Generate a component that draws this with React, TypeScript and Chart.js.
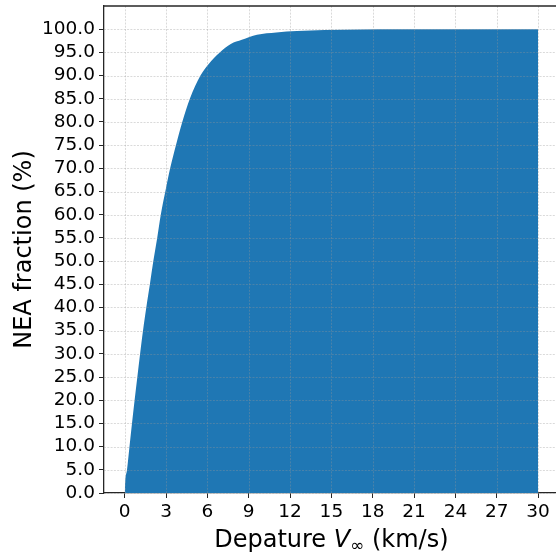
import React, { useEffect, useRef } from 'react';
import { Chart, registerables } from 'chart.js';

Chart.register(...registerables);

// Departure V-infinity (km/s) and cumulative NEA fraction (%)
const speeds = [0, 0.04, 0.17, 0.35, 0.53, 0.72, 0.92, 1.12, 1.33, 1.57, 1.83, 2.08, 2.36, 2.62, 2.95, 3.3, 3.72, 4.18, 4.73, 5.5, 6.1, 6.9, 7.7, 8.5, 9.6, 11.0, 12.5, 14.5, 17, 20, 30];
const fractions = [0, 2.5, 5, 10, 15, 20, 25, 30, 35, 40, 45, 50, 55, 60, 65, 70, 75, 80, 85, 90, 92.5, 95, 96.8, 97.7, 98.8, 99.3, 99.6, 99.85, 99.95, 100, 100];
const xTicks = [0, 3, 6, 9, 12, 15, 18, 21, 24, 27, 30];
const yTicks = [0, 5, 10, 15, 20, 25, 30, 35, 40, 45, 50, 55, 60, 65, 70, 75, 80, 85, 90, 95, 100];

const FONT = "'DejaVu Sans', sans-serif";
const SPINE = '#262626';

const overlay = {
  id: 'overlay',
  afterDatasetsDraw(chart: any) {
    const { ctx, chartArea, scales } = chart;
    const { left, right, top, bottom } = chartArea;
    ctx.save();
    ctx.strokeStyle = 'rgba(150,150,150,0.4)';
    ctx.lineWidth = 0.9;
    ctx.setLineDash([2, 1.3]);
    xTicks.forEach((v) => {
      const px = Math.round(scales.x.getPixelForValue(v)) + 0.5;
      ctx.beginPath();
      ctx.moveTo(px, top);
      ctx.lineTo(px, bottom);
      ctx.stroke();
    });
    yTicks.forEach((v) => {
      const py = Math.round(scales.y.getPixelForValue(v)) + 0.5;
      ctx.beginPath();
      ctx.moveTo(left, py);
      ctx.lineTo(right, py);
      ctx.stroke();
    });
    ctx.restore();
  },
  afterDraw(chart: any) {
    const { ctx, chartArea, scales } = chart;
    const { left, right, top } = chartArea;
    ctx.save();
    ctx.strokeStyle = SPINE;
    ctx.lineWidth = 1.3;
    ctx.beginPath();
    ctx.moveTo(left, top);
    ctx.lineTo(right, top);
    ctx.stroke();
    const parts = [
      { t: 'Depature ', f: `24px ${FONT}`, dy: 0 },
      { t: 'V', f: `italic 24px ${FONT}`, dy: 0 },
      { t: '\u221E', f: `17px ${FONT}`, dy: 4 },
      { t: ' (km/s)', f: `24px ${FONT}`, dy: 0 },
    ];
    let total = 0;
    const widths = parts.map((p) => {
      ctx.font = p.f;
      const w = ctx.measureText(p.t).width;
      total += w;
      return w;
    });
    const cx = scales.x.getPixelForValue(15);
    let x = cx - total / 2;
    const baseY = scales.x.bottom - 8;
    ctx.fillStyle = '#000';
    ctx.textBaseline = 'alphabetic';
    ctx.textAlign = 'left';
    parts.forEach((p, i) => {
      ctx.font = p.f;
      ctx.fillText(p.t, x, baseY + p.dy);
      x += widths[i];
    });
    ctx.restore();
  },
};

export default function App() {
  const ref = useRef<HTMLCanvasElement>(null);
  useEffect(() => {
    if (!ref.current) return;
    const chart = new Chart(ref.current, {
      type: 'line',
      data: {
        datasets: [
          {
            data: speeds.map((s, i) => ({ x: s, y: fractions[i] })),
            backgroundColor: '#1f77b4',
            borderColor: '#1f77b4',
            borderWidth: 0,
            pointRadius: 0,
            fill: 'origin',
            cubicInterpolationMode: 'monotone',
          },
        ],
      },
      options: {
        animation: false,
        responsive: false,
        maintainAspectRatio: false,
        devicePixelRatio: 1,
        layout: { padding: { top: 6, right: 0, left: 0, bottom: 0 } },
        plugins: { legend: { display: false }, tooltip: { enabled: false } },
        scales: {
          x: {
            type: 'linear',
            min: -1.5,
            max: 31.3,
            afterBuildTicks: (s: any) => {
              s.ticks = xTicks.map((v) => ({ value: v }));
            },
            afterFit: (s: any) => {
              s.height = 62;
              s.paddingLeft = 0;
              s.paddingRight = 0;
            },
            ticks: {
              autoSkip: false,
              maxRotation: 0,
              color: '#000',
              padding: 3,
              font: { family: FONT, size: 18.5 },
              callback: (v: any) => String(v),
            },
            grid: { drawOnChartArea: false, drawTicks: true, tickLength: 5, color: SPINE, lineWidth: 1 },
            border: { display: true, color: SPINE, width: 1.3 },
          },
          y: {
            type: 'linear',
            min: 0,
            max: 105,
            afterBuildTicks: (s: any) => {
              s.ticks = yTicks.map((v) => ({ value: v }));
            },
            afterFit: (s: any) => {
              s.width = 104;
              s.paddingTop = 0;
              s.paddingBottom = 0;
            },
            ticks: {
              autoSkip: false,
              color: '#000',
              padding: 4,
              font: { family: FONT, size: 18.5 },
              callback: (v: any) => Number(v).toFixed(1),
            },
            grid: { drawOnChartArea: false, drawTicks: true, tickLength: 5, color: SPINE, lineWidth: 1 },
            border: { display: true, color: SPINE, width: 1.3 },
            title: {
              display: true,
              text: 'NEA fraction (%)',
              color: '#000',
              font: { family: FONT, size: 24 },
              padding: { top: 10, bottom: 0 },
            },
          },
        },
      },
      plugins: [overlay],
    });
    return () => chart.destroy();
  }, []);
  return (
    <div style={{ position: 'fixed', left: 0, top: 0, width: 556, height: 555, background: '#fff' }}>
      <canvas ref={ref} width={556} height={555} style={{ display: 'block', width: 556, height: 555 }} />
    </div>
  );
}
